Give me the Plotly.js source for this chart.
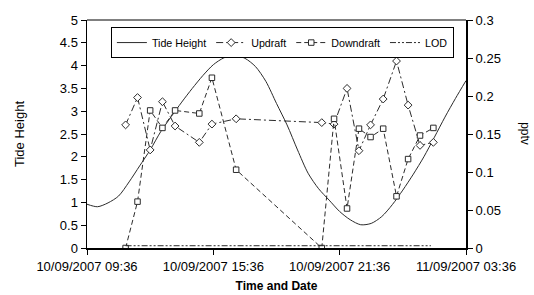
<!DOCTYPE html>
<html>
<head>
<meta charset="utf-8">
<script src="https://cdn.plot.ly/plotly-3.0.1.min.js"></script>
<style>html,body{margin:0;padding:0;background:#fff;}#chart{width:534px;height:295px;}</style>
</head>
<body>
<div id="chart"></div>
<script>
// Tide height (left axis), every 30 minutes
const tideTimes = [
  '2007-09-10 09:36','2007-09-10 10:06','2007-09-10 10:36','2007-09-10 11:06','2007-09-10 11:36',
  '2007-09-10 12:06','2007-09-10 12:36','2007-09-10 13:06','2007-09-10 13:36','2007-09-10 14:06',
  '2007-09-10 14:36','2007-09-10 15:06','2007-09-10 15:36','2007-09-10 16:06','2007-09-10 16:36',
  '2007-09-10 17:06','2007-09-10 17:36','2007-09-10 18:06','2007-09-10 18:36','2007-09-10 19:06',
  '2007-09-10 19:36','2007-09-10 20:06','2007-09-10 20:36','2007-09-10 21:06','2007-09-10 21:36',
  '2007-09-10 22:06','2007-09-10 22:36','2007-09-10 23:06','2007-09-10 23:36','2007-09-11 00:06',
  '2007-09-11 00:36','2007-09-11 01:06','2007-09-11 01:36','2007-09-11 02:06','2007-09-11 02:36',
  '2007-09-11 03:06','2007-09-11 03:36'
];
const tideHeight = [
  0.96, 0.905, 0.99, 1.14, 1.45, 1.80, 2.15, 2.55, 2.88, 3.20,
  3.50, 3.78, 4.02, 4.17, 4.23, 4.16, 3.98, 3.65, 3.17, 2.70,
  2.15, 1.64, 1.30, 1.05, 0.80, 0.62, 0.51, 0.54, 0.69, 0.95,
  1.27, 1.62, 2.00, 2.43, 2.87, 3.28, 3.67
];
// Sampling times (right axis, pptv)
const sampleTimes = [
  '2007-09-10 11:26','2007-09-10 12:00','2007-09-10 12:36','2007-09-10 13:11','2007-09-10 13:47',
  '2007-09-10 14:56','2007-09-10 15:32','2007-09-10 16:41','2007-09-10 20:45','2007-09-10 21:20',
  '2007-09-10 21:57','2007-09-10 22:31','2007-09-10 23:04','2007-09-10 23:40','2007-09-11 00:18',
  '2007-09-11 00:51','2007-09-11 01:25','2007-09-11 02:03'
];
const updraft = [
  0.162, 0.198, 0.129, 0.1925, 0.1605, 0.139, 0.163, 0.170, 0.165, 0.163,
  0.210, 0.128, 0.162, 0.196, 0.246, 0.188, 0.135, 0.139
];
const downdraft = [
  0.0, 0.061, 0.181, 0.158, 0.181, 0.177, 0.224, 0.103, 0.0, 0.170,
  0.052, 0.157, 0.146, 0.157, 0.068, 0.117, 0.148, 0.158
];
const lodTimes = ['2007-09-10 11:26', '2007-09-11 01:56'];
const lodValues = [0.003, 0.003];

const xTicks0 = '2007-09-10 09:36';
const xRange = ['2007-09-10 09:36', '2007-09-11 03:36'];

const FONT = 'Liberation Sans, Arial, sans-serif';
const INK = '#2b2b2b';

const traces = [
  {x: tideTimes, y: tideHeight, name: 'Tide Height', type: 'scatter', mode: 'lines',
   line: {color: INK, width: 1, shape: 'spline', smoothing: 0.8}, yaxis: 'y'},
  {x: sampleTimes, y: updraft, name: 'Updraft', type: 'scatter', mode: 'lines+markers',
   line: {color: INK, width: 1, dash: '7px,3px,2px,3px'},
   marker: {symbol: 'diamond', size: 6, color: '#fff', line: {color: INK, width: 1}}, yaxis: 'y2'},
  {x: sampleTimes, y: downdraft, name: 'Downdraft', type: 'scatter', mode: 'lines+markers',
   line: {color: INK, width: 1, dash: '5px,3px'},
   marker: {symbol: 'square', size: 5.5, color: '#fff', line: {color: INK, width: 1}}, yaxis: 'y2'},
  {x: lodTimes, y: lodValues, name: 'LOD', type: 'scatter', mode: 'lines',
   line: {color: INK, width: 1, dash: '6px,2px,2px,2px,2px,2px'}, yaxis: 'y2'}
];

const layout = {
  width: 534, height: 295,
  margin: {l: 87, r: 68, t: 20, b: 47, pad: 0},
  paper_bgcolor: '#fff', plot_bgcolor: '#fff',
  font: {family: FONT, size: 13, color: '#000'},
  showlegend: true,
  legend: {
    orientation: 'h', x: 0.063, y: 0.969, xanchor: 'left', yanchor: 'top',
    bgcolor: '#fff', bordercolor: '#000', borderwidth: 1,
    font: {family: FONT, size: 10.7, color: '#000'}, itemwidth: 30, tracegroupgap: 0
  },
  xaxis: {
    type: 'date', range: xRange, tick0: xTicks0, dtick: 6 * 3600 * 1000,
    tickformat: '%d/%m/%Y %H:%M', ticks: 'outside', ticklen: 5, tickcolor: '#000',
    showline: true, linecolor: '#000', linewidth: 2, showgrid: false, zeroline: false,
    tickfont: {family: FONT, size: 13, color: '#000'},
    title: {text: '<b>Time and Date</b>', font: {family: FONT, size: 12, color: '#000'}, standoff: 9}
  },
  yaxis: {
    range: [0, 5], dtick: 0.5, tick0: 0, ticks: 'outside', ticklen: 5, tickcolor: '#000',
    showline: true, linecolor: '#000', linewidth: 1.5, showgrid: false, zeroline: false,
    tickfont: {family: FONT, size: 13, color: '#000'},
    title: {text: 'Tide Height', font: {family: FONT, size: 13, color: '#000'}, standoff: 32}
  },
  yaxis2: {
    range: [0, 0.3], dtick: 0.05, tick0: 0, overlaying: 'y', side: 'right', anchor: 'x',
    ticks: 'outside', ticklen: 5, tickcolor: '#000',
    showline: true, linecolor: '#000', linewidth: 2, showgrid: false, zeroline: false,
    tickfont: {family: FONT, size: 13, color: '#000'}
  },
  yaxis3: {
    range: [0, 0.3], dtick: 0.05, tick0: 0, overlaying: 'y', side: 'right', anchor: 'x',
    ticks: 'inside', ticklen: 5, tickcolor: '#000', showticklabels: false,
    showline: false, showgrid: false, zeroline: false
  },
  shapes: [
    {type: 'line', xref: 'paper', yref: 'paper', x0: 0, x1: 1, y0: 1, y1: 1,
     line: {color: '#000', width: 1}}
  ],
  annotations: [
    {text: 'pptv', xref: 'paper', yref: 'paper', x: 1.179, y: 0.5, showarrow: false,
     textangle: 90, font: {family: FONT, size: 12, color: '#000'}}
  ]
};

Plotly.newPlot('chart', traces, layout, {displayModeBar: false, staticPlot: true});
</script>
</body>
</html>
